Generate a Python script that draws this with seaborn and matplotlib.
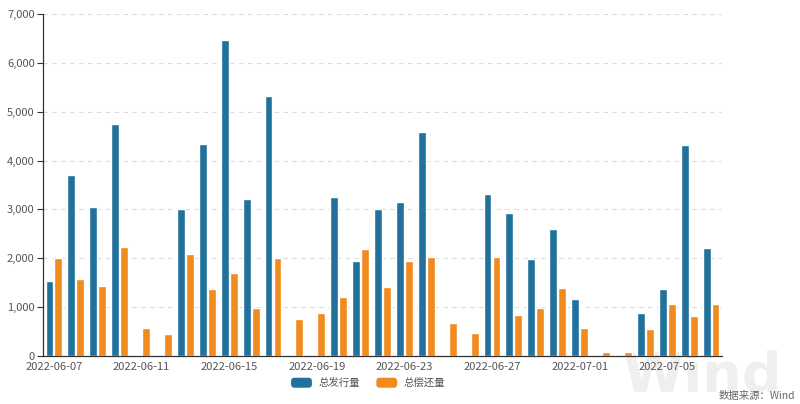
import matplotlib
matplotlib.use("Agg")
import matplotlib.pyplot as plt
import matplotlib.ticker as mticker
from matplotlib.patches import FancyBboxPatch, Rectangle
from matplotlib.legend_handler import HandlerPatch
import seaborn as sns
import pandas as pd

dates = pd.date_range("2022-06-07", "2022-07-07").strftime("%Y-%m-%d").tolist()
issuance = [1530, 3700, 3040, 4745, 0, 0, 3016, 4336, 6470, 3220, 5316,
            0, 0, 3250, 1950, 3000, 3160, 4590, 0, 0, 3315, 2920, 1990,
            2607, 1164, 0, 0, 890, 1380, 4320, 2220]
repayment = [2000, 1570, 1430, 2240, 565, 456, 2080, 1380, 1700, 990, 2000,
             760, 885, 1205, 2190, 1410, 1950, 2030, 675, 463, 2035, 830, 980,
             1400, 580, 75, 90, 550, 1060, 817, 1070]
series_names = ["总发行量", "总偿还量"]
colors = ["#21719c", "#f18a1f"]

df = pd.DataFrame({
    "date": dates * 2,
    "value": issuance + repayment,
    "series": [series_names[0]] * len(dates) + [series_names[1]] * len(dates),
})

sns.set_theme(style="white")
plt.rcParams["font.family"] = ["Noto Sans CJK SC", "DejaVu Sans"]

fig = plt.figure(figsize=(8, 4.04), dpi=100)

# watermark (behind everything)
fig.text(622 / 800, 1 / 404, "Wind", fontsize=40, color="#efefef", fontweight="bold",
         family="DejaVu Sans", ha="left", va="bottom", zorder=-5)

ax = fig.add_axes([43 / 800, 48 / 404, (722 - 43) / 800, (356 - 14) / 404])
ax.patch.set_alpha(0)

sns.barplot(data=df, x="date", y="value", hue="series", palette=colors,
            width=0.82, gap=0.12, ax=ax, legend=False, saturation=1)

ax.set_xlim(-0.5, len(dates) - 0.5)
ax.set_ylim(0, 7000)
ax.yaxis.set_major_locator(mticker.MultipleLocator(1000))
ax.yaxis.set_major_formatter(mticker.FuncFormatter(lambda v, p: f"{int(v):,}"))
ax.set_xlabel("")
ax.set_ylabel("")

ax.set_xticks(range(0, len(dates), 4))
ax.set_xticklabels([dates[i] for i in range(0, len(dates), 4)])
ax.set_xticks(range(2, len(dates), 4), minor=True)
ax.tick_params(axis="x", which="major", length=0, pad=4, labelsize=8, labelcolor="#555555")
ax.tick_params(axis="x", which="minor", length=4, width=0.8, color="#333333", direction="out")
ax.tick_params(axis="y", length=4, width=0.8, color="#333333", labelsize=8,
               labelcolor="#555555", pad=2, left=True)

for s in ["top", "right"]:
    ax.spines[s].set_visible(False)
for s in ["left", "bottom"]:
    ax.spines[s].set_color("#333333")
    ax.spines[s].set_linewidth(0.9)

ax.yaxis.grid(True, linestyle=(0, (4, 4)), color="#dddddd", linewidth=0.8)
ax.set_axisbelow(True)


class RoundHandler(HandlerPatch):
    def create_artists(self, legend, orig_handle, xdescent, ydescent, width, height, fontsize, trans):
        p = FancyBboxPatch((-xdescent, -ydescent), width, height,
                           boxstyle="round,pad=0,rounding_size=2.5",
                           facecolor=orig_handle.get_facecolor(), edgecolor="none", transform=trans)
        return [p]


handles = [Rectangle((0, 0), 1, 1, facecolor=c) for c in colors]
fig.legend(handles, series_names, loc="center", bbox_to_anchor=(368 / 800, 21 / 404), ncol=2,
           frameon=False, fontsize=7.5, handlelength=2.0, handleheight=1.1, handletextpad=0.6,
           columnspacing=1.6, labelcolor="#555555",
           handler_map={Rectangle: RoundHandler()})

fig.text(795 / 800, 8 / 404, "数据来源：Wind", ha="right", va="center", fontsize=7.5, color="#666666")

fig.savefig("out.png", dpi=100)
